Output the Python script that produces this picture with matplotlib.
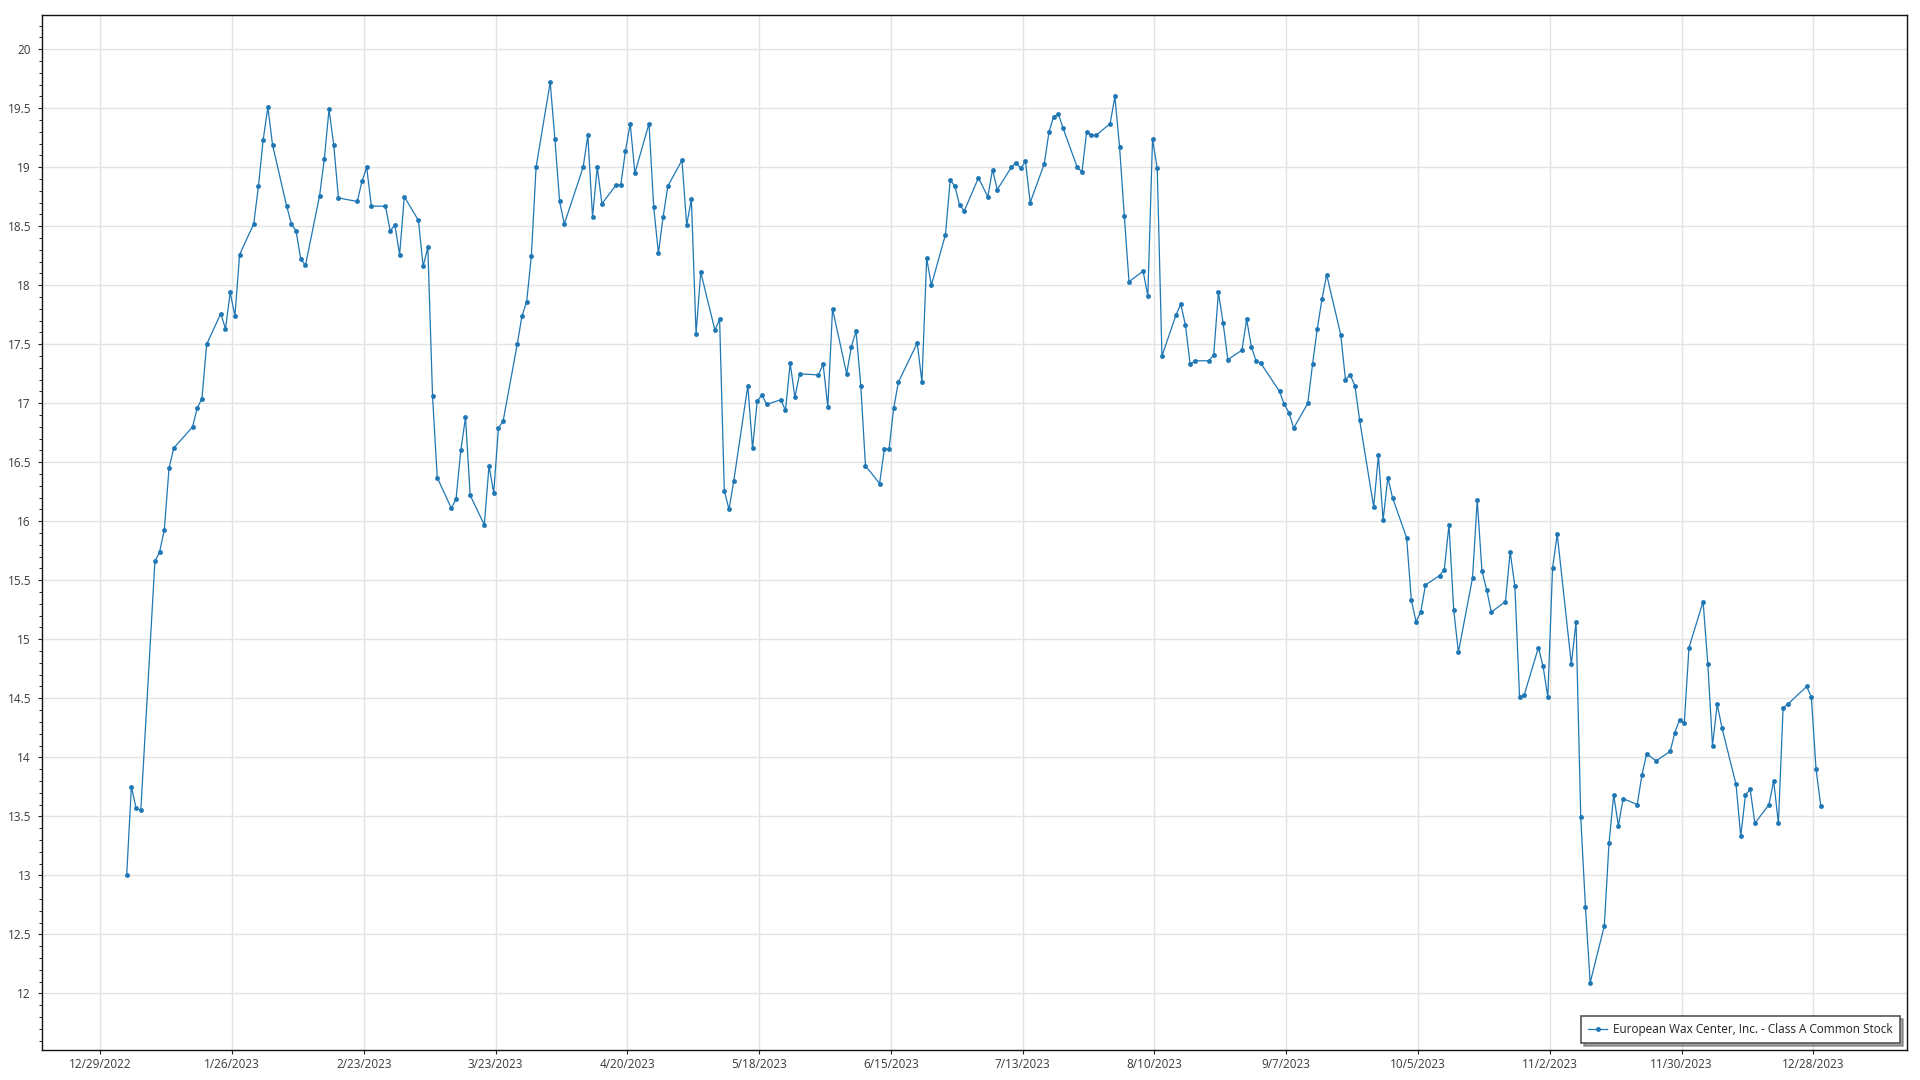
"""Daily closing price of European Wax Center (EWCZ) through 2023, one dot per trading day."""

import datetime as dt

import matplotlib

matplotlib.use("Agg")
import matplotlib.dates as mdates
import matplotlib.pyplot as plt
import matplotlib.ticker as mticker
import pandas as pd

SERIES_LABEL = "European Wax Center, Inc. - Class A Common Stock"

# NYSE closures in 2023 - the trading calendar the series is plotted on.
HOLIDAYS = [
    "2023-01-16", "2023-02-20", "2023-04-07", "2023-05-29", "2023-06-19",
    "2023-07-04", "2023-09-04", "2023-11-23", "2023-12-25",
]

# Closing prices [USD].
jan = [13.00, 13.75, 13.57, 13.55, 15.66, 15.74, 15.93, 16.45, 16.62, 16.80,
       16.96, 17.04, 17.50, 17.76, 17.63, 17.94, 17.74, 18.26, 18.52, 18.84]
feb = [19.23, 19.51, 19.19, 18.67, 18.52, 18.46, 18.22, 18.17, 18.76, 19.07,
       19.49, 19.19, 18.74, 18.71, 18.88, 19.00, 18.67, 18.67, 18.46]
mar = [18.51, 18.26, 18.75, 18.55, 18.16, 18.32, 17.06, 16.37, 16.11, 16.19,
       16.60, 16.88, 16.22, 15.97, 16.47, 16.24, 16.79, 16.85, 17.50, 17.74,
       17.86, 18.25, 19.00]
apr = [19.72, 19.24, 18.71, 18.52, 19.00, 19.27, 18.58, 19.00, 18.69, 18.85,
       18.85, 19.14, 19.37, 18.95, 19.37, 18.66, 18.27, 18.58, 18.84]
may = [19.06, 18.51, 18.73, 17.59, 18.11, 17.62, 17.71, 16.26, 16.10, 16.34,
       17.15, 16.62, 17.02, 17.07, 16.99, 17.03, 16.94, 17.34, 17.05, 17.25,
       17.24, 17.33]
jun = [16.97, 17.80, 17.25, 17.48, 17.61, 17.15, 16.47, 16.32, 16.61, 16.61,
       16.96, 17.18, 17.51, 17.18, 18.23, 18.00, 18.43, 18.89, 18.84, 18.68,
       18.63]
jul = [18.91, 18.75, 18.98, 18.81, 19.00, 19.04, 18.99, 19.05, 18.70, 19.03,
       19.30, 19.43, 19.45, 19.33, 19.00, 18.96, 19.30, 19.27, 19.27, 19.37]
aug = [19.60, 19.17, 18.59, 18.03, 18.12, 17.91, 19.24, 18.99, 17.40, 17.75,
       17.84, 17.66, 17.33, 17.36, 17.36, 17.41, 17.94, 17.68, 17.37, 17.45,
       17.71, 17.48, 17.36]
sep = [17.34, 17.10, 16.99, 16.92, 16.79, 17.00, 17.33, 17.63, 17.88, 18.09,
       17.58, 17.20, 17.24, 17.15, 16.86, 16.12, 16.56, 16.01, 16.37, 16.20]
oct_ = [15.86, 15.33, 15.15, 15.23, 15.46, 15.54, 15.59, 15.97, 15.25, 14.89,
        15.52, 16.18, 15.58, 15.42, 15.23, 15.32, 15.74, 15.45, 14.51, 14.53,
        14.93, 14.77]
nov = [14.51, 15.60, 15.89, 14.79, 15.15, 13.49, 12.73, 12.09, 12.57, 13.27,
       13.68, 13.42, 13.65, 13.60, 13.85, 14.03, 13.97, 14.05, 14.21, 14.32,
       14.29]
dec = [14.93, 15.32, 14.79, 14.10, 14.45, 14.25, 13.77, 13.33, 13.68, 13.73,
       13.44, 13.60, 13.80, 13.44, 14.42, 14.45, 14.60, 14.51, 13.90, 13.59]

# x ticks every four weeks, as on the source chart
XTICK_START = dt.date(2022, 12, 29)
XTICK_COUNT = 14
YTICKS = [12 + 0.5 * i for i in range(17)]

COLOR = "#1f77b4"
TEXT = "#3a3a3a"


def build_series() -> pd.Series:
    days = pd.bdate_range("2023-01-03", "2023-12-29", freq="C", holidays=HOLIDAYS)
    # the source stamps each close in the afternoon, not at midnight
    days = days + pd.Timedelta(hours=14)
    closes = jan + feb + mar + apr + may + jun + jul + aug + sep + oct_ + nov + dec
    assert len(days) == len(closes), (len(days), len(closes))
    return pd.Series(closes, index=days)


def plot_prices(prices: pd.Series):
    plt.rcParams["font.family"] = ["Open Sans", "DejaVu Sans"]
    fig = plt.figure(figsize=(19.2, 10.8), dpi=100)
    ax = fig.add_axes([0.0219, 0.0278, 0.9713, 0.9583])

    ax.plot(prices.index, prices.values, color=COLOR, lw=0.9, marker="o",
            ms=3.5, mew=0, label=SERIES_LABEL, zorder=3)

    xticks = [XTICK_START + dt.timedelta(days=28 * i) for i in range(XTICK_COUNT)]
    ax.set_xticks(mdates.date2num(xticks))
    ax.xaxis.set_major_formatter(mticker.FuncFormatter(
        lambda v, _: (lambda d: f"{d.month}/{d.day}/{d.year}")(mdates.num2date(v))))
    ax.set_xlim(mdates.date2num(XTICK_START) - 12.4,
                mdates.date2num(xticks[-1]) + 19.9)

    ax.set_yticks(YTICKS)
    ax.yaxis.set_major_formatter(mticker.FuncFormatter(lambda v, _: f"{v:g}"))
    ax.yaxis.set_minor_locator(mticker.MultipleLocator(0.1))
    ax.set_ylim(11.52, 20.29)

    ax.grid(True, which="major", color="#e3e3e3", lw=1.0, zorder=0)
    ax.tick_params(axis="both", which="major", labelsize=8.5, labelcolor=TEXT,
                   length=3, width=0.8, color="#222222")
    ax.tick_params(axis="x", which="major", pad=2.5)
    ax.tick_params(axis="y", which="major", pad=5)
    ax.tick_params(axis="y", which="minor", length=2.5, width=0.7, color="#222222")
    for spine in ax.spines.values():
        spine.set_color("#111111")
        spine.set_linewidth(1.0)

    leg = ax.legend(loc="lower right", fontsize=8.5, frameon=True, fancybox=False,
                    shadow=True, borderaxespad=0.6, borderpad=0.6,
                    handlelength=1.6, handletextpad=0.5)
    leg.get_frame().set_edgecolor("#555555")
    leg.get_frame().set_linewidth(1.2)
    for txt in leg.get_texts():
        txt.set_color("#222222")
    return fig


def main() -> None:
    fig = plot_prices(build_series())
    fig.savefig("out.png", dpi=100)


if __name__ == "__main__":
    main()
